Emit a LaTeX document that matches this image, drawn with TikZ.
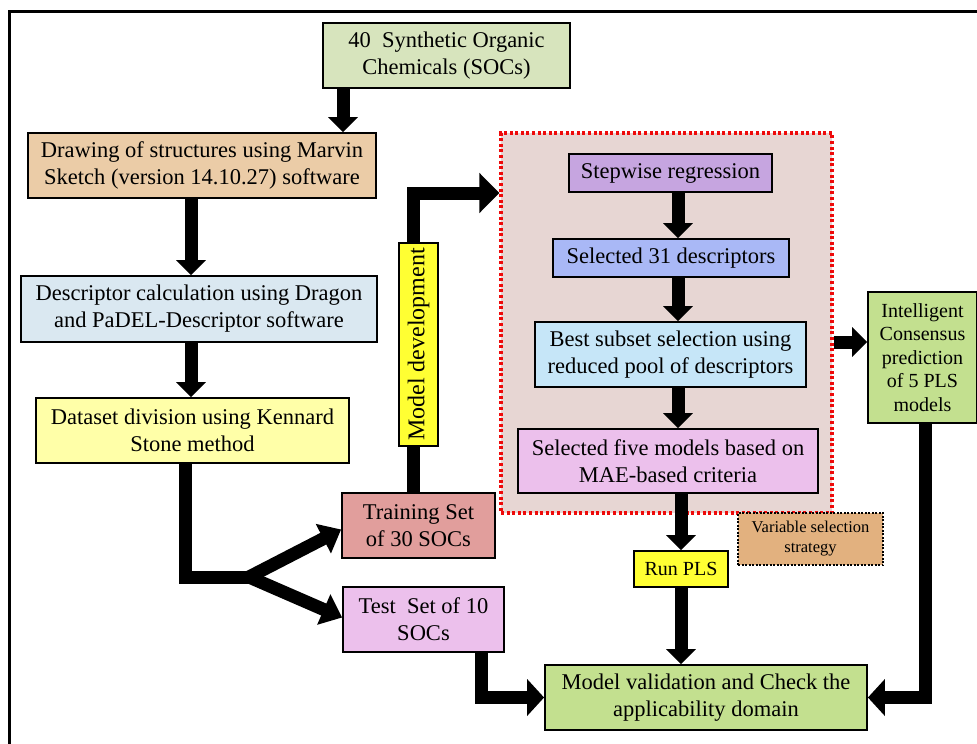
\documentclass[tikz,border=0pt]{standalone}
\usepackage{xcolor}
\usepackage{fontspec}
\setmainfont{Liberation Serif}
\usetikzlibrary{arrows.meta,positioning}

\definecolor{socgreen}{HTML}{D7E4BD}
\definecolor{drawpeach}{HTML}{EBCCA7}
\definecolor{descblue}{HTML}{DAE8F1}
\definecolor{splityellow}{HTML}{FFFFA8}
\definecolor{trainred}{HTML}{E19E9C}
\definecolor{testpink}{HTML}{ECC0EC}
\definecolor{validgreen}{HTML}{C3E08F}
\definecolor{contfill}{HTML}{E7D6D3}
\definecolor{stepviolet}{HTML}{C6A5E0}
\definecolor{selblue}{HTML}{A9B8F6}
\definecolor{bestblue}{HTML}{C6E6F8}
\definecolor{plsyellow}{HTML}{FFFF33}
\definecolor{varbrown}{HTML}{E2B17F}
\definecolor{dotred}{HTML}{EE0A0A}

\begin{document}
\begin{tikzpicture}[x=1pt,y=-1pt,
    box/.style={draw, line width=1.8pt, inner sep=0pt, align=center,
        font=\fontsize{22.5}{27}\selectfont},
    pipe/.style={line width=13pt},
    flow/.style={pipe, -{Triangle[width=29pt,length=15pt]}},
    bigtip/.style={-{Triangle[width=36pt,length=17pt]}}]
    \useasboundingbox (0,0) rectangle (977,744);
    \clip (0,0) rectangle (977,744);

    % outer frame
    \draw[line width=3pt] (9,11) rectangle (990,760);

    % variable selection block
    \node[draw=dotred, dash pattern=on 3pt off 2.6pt, line width=3.2pt, fill=contfill,
        inner sep=0pt, minimum width=331, minimum height=380] (cont) at (666.5,323) {};

    % left column
    \node[box, fill=socgreen, minimum width=247, minimum height=65] (soc) at (446.5,55.5)
        {40\ \ Synthetic Organic\\Chemicals (SOCs)};
    \node[box, fill=drawpeach, minimum width=348, minimum height=65] (draw) at (202,165.5)
        {Drawing of structures using Marvin\\Sketch (version 14.10.27) software};
    \node[box, fill=descblue, minimum width=356, minimum height=66] (desc) at (199,309)
        {Descriptor calculation using Dragon\\and PaDEL-Descriptor software};
    \node[box, fill=splityellow, minimum width=313, minimum height=65] (split) at (192.5,430.5)
        {Dataset division using Kennard\\Stone method};
    \node[box, fill=trainred, minimum width=153, minimum height=65] (train) at (418.5,525.5)
        {Training Set\\of 30 SOCs};
    \node[box, fill=testpink, minimum width=161, minimum height=65] (test) at (423.5,619.5)
        {Test\ \ Set of 10\\SOCs};
    \node[box, fill=validgreen, minimum width=322, minimum height=65] (valid) at (706,697.5)
        {Model validation and Check the\\applicability domain};

    % inside the dotted block
    \node[box, fill=stepviolet, minimum width=203, minimum height=38] (stepwise) at (670.5,173)
        {Stepwise regression};
    \node[box, fill=selblue, minimum width=236, minimum height=38] (sel31) at (671,258)
        {Selected 31 descriptors};
    \node[box, fill=bestblue, minimum width=271, minimum height=65] (best) at (670.5,354.5)
        {Best subset selection using\\reduced pool of descriptors};
    \node[box, fill=testpink, minimum width=300, minimum height=64] (five) at (668,461)
        {Selected five models based on\\MAE-based criteria};

    % right side
    \node[box, fill=validgreen, minimum width=109, minimum height=131,
        font=\fontsize{20}{23.5}\selectfont] (consensus) at (922.5,357.5)
        {Intelligent\\Consensus\\prediction\\of 5 PLS\\models};
    \node[box, fill=plsyellow, minimum width=94, minimum height=36,
        font=\fontsize{20}{24}\selectfont] (runpls) at (681,569) {Run PLS};
    \node[draw, dash pattern=on 2pt off 1.5pt, line width=2pt, fill=varbrown, inner sep=0pt,
        minimum width=145, minimum height=52, align=center,
        font=\fontsize{16.5}{20}\selectfont] (varsel) at (810.5,539)
        {Variable selection\\strategy};

    % arrows
    \draw[flow] (343,0 |- soc.south) -- (343,0 |- draw.north);
    \draw[flow] (191,0 |- draw.south) -- (191,0 |- desc.north);
    \draw[flow] (191,0 |- desc.south) -- (191,0 |- split.north);

    \coordinate (fork) at (257,577);
    \draw[pipe] (185,0 |- split.south) |- (fork);
    \draw[flow, -{Triangle[width=32pt,length=20pt]}] ([xshift=-8pt]fork) -- ([yshift=-4pt]train.west);
    \draw[flow, -{Triangle[width=32pt,length=20pt]}] ([xshift=-8pt]fork) -- ([yshift=2pt]test.west);

    \coordinate (devin) at (cont.west |- 0,193);
    \draw[flow, -{Triangle[width=39pt,length=20pt]}] (413,0 |- train.north) |- (devin);
    \node[box, fill=plsyellow, rotate=90, minimum width=203, minimum height=39,
        font=\fontsize{24}{28}\selectfont] (moddev) at (418.5,344.5) {Model development};

    \draw[flow] (678,0 |- stepwise.south) -- (678,0 |- sel31.north);
    \draw[flow] (678,0 |- sel31.south) -- (678,0 |- best.north);
    \draw[flow] (678,0 |- best.south) -- (678,0 |- five.north);
    \draw[flow] (681,0 |- five.south) -- (runpls.north);
    \draw[flow] (runpls.south) -- (runpls.south |- valid.north);

    \draw[flow] (cont.east |- 0,342) -- (consensus.west |- 0,342);
    \draw[flow, bigtip] (925,0 |- consensus.south) |- (valid.east);
    \draw[flow, bigtip] (481,0 |- test.south) |- (valid.west);
\end{tikzpicture}
\end{document}
